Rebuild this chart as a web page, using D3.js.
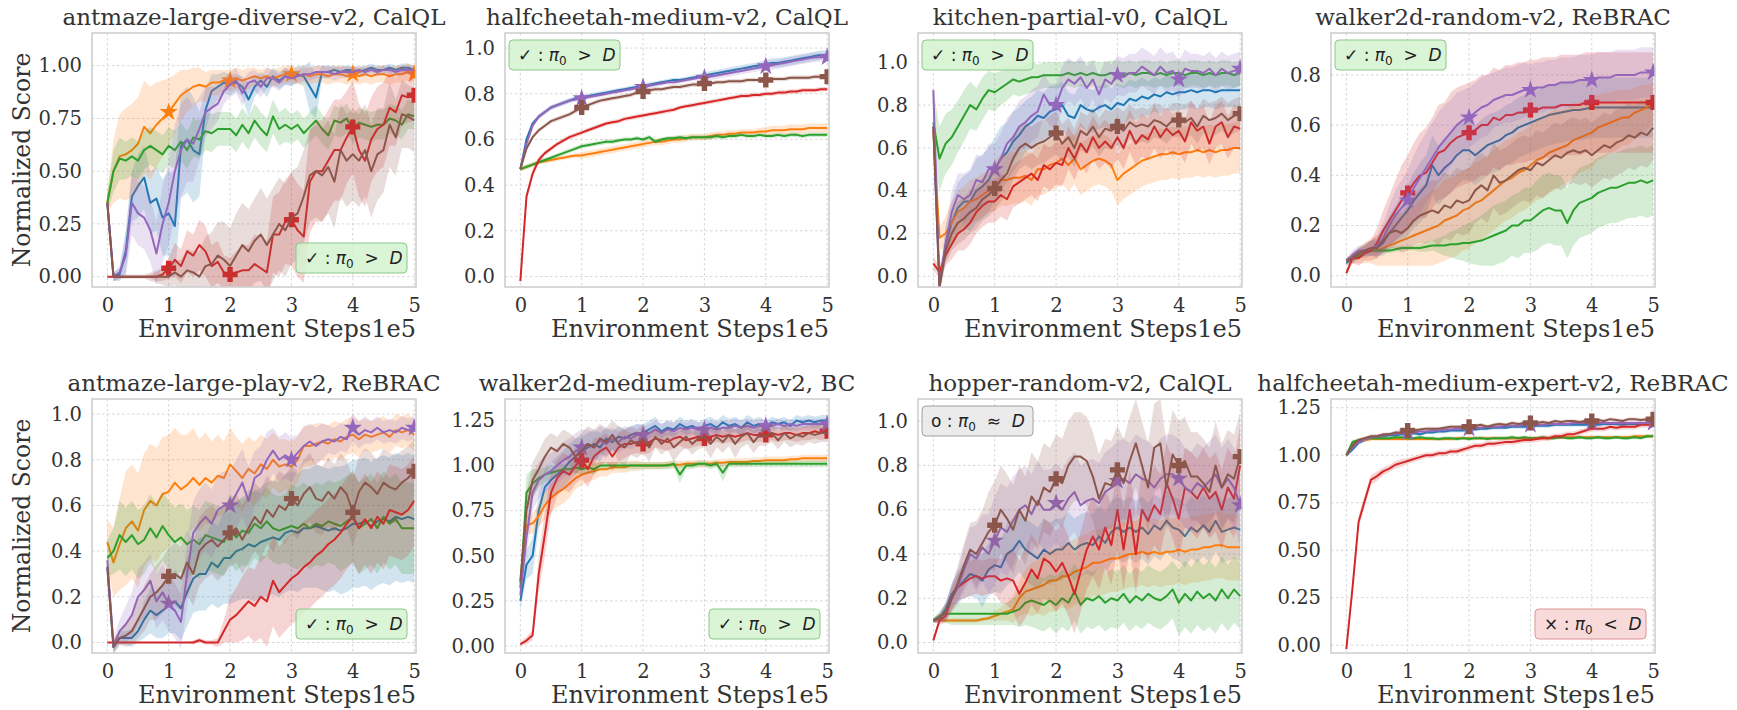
<!DOCTYPE html>
<html>
<head>
<meta charset="utf-8">
<title>Normalized score vs environment steps</title>
<script src="https://cdnjs.cloudflare.com/ajax/libs/d3/7.8.5/d3.min.js"></script>
<style>
  body { margin: 0; background: #fff; }
  svg text { font-family: "DejaVu Serif", serif; fill: #333; }
  .badge text { font-family: "DejaVu Sans", sans-serif; fill: #222; white-space: pre; }
</style>
</head>
<body>
<div id="chart"></div>
<script>
// ---------------- data (scores x100, one sample every 0.1e5 steps) ----------------
var panelTitles = ["antmaze-large-diverse-v2, CalQL", "halfcheetah-medium-v2, CalQL",
  "kitchen-partial-v0, CalQL", "walker2d-random-v2, ReBRAC",
  "antmaze-large-play-v2, ReBRAC", "walker2d-medium-replay-v2, BC",
  "hopper-random-v2, CalQL", "halfcheetah-medium-expert-v2, ReBRAC"];
var xTicks = [0, 1, 2, 3, 4, 5];
var yTicksA = [0, 0.25, 0.5, 0.75, 1.0];
var yTicksB = [0, 0.2, 0.4, 0.6, 0.8, 1.0];
var yTicksC = [0, 0.2, 0.4, 0.6, 0.8];
var yTicksD = [0, 0.25, 0.5, 0.75, 1.0, 1.25];
var badgeKind = ["better", "better", "better", "better", "better", "better", "similar", "worse"];
var badgeCorner = ["br", "tl", "tl", "tl", "br", "br", "tl", "br"];
var starSeries = [1, 4, 4, 4, 4, 4, 4, 4];   // index of series drawn with star markers
var plusSeries = [3, 5, 5, 3, 5, 3, 5, 5];   // index of series drawn with filled-plus markers

// panel 1: antmaze-large-diverse-v2
var p1Blue = [35,0,1,12,38,43,47,35,37,28, 30,24,62,65,60,58,79,88,90,92, 91,92,90,84,90,93,90,95,93,95, 94,96,95,90,85,97,97,98,97,98, 98,97,98,99,98,98,99,98,99,99, 98];
var p1BlueSd = [5,2,3,10,12,15,15,15,15,18, 20,25,25,25,25,20,10,8,6,5, 5,4,5,8,5,4,5,4,4,4, 4,4,5,12,10,3,3,2,2,2, 2,2,2,2,2,2,2,2,2,2, 2];
var p1Orange = [35,50,57,58,60,63,71,68,72,75, 78,82,86,88,90,91,90,92,92,93, 93,94,93,94,95,94,95,94,95,96, 96,95,96,95,96,96,95,96,96,95, 96,95,96,95,96,96,95,96,96,97, 96];
var p1OrangeSd = [5,15,20,22,22,22,22,22,20,18, 16,14,12,10,9,8,7,6,6,5, 5,5,5,5,4,4,4,4,4,4, 4,4,4,4,4,4,4,4,4,4, 4,4,4,4,4,4,4,4,4,4, 4];
var p1Green = [35,50,56,55,57,55,60,62,60,58, 62,60,64,60,66,65,69,68,70,70, 70,67,72,68,74,70,67,76,70,72, 70,72,68,71,74,70,67,74,73,75, 70,73,72,71,72,72,75,74,72,77, 76];
var p1GreenSd = [5,10,10,9,9,9,9,9,9,9, 9,9,9,9,9,9,9,9,8,8, 8,8,8,8,8,8,8,8,8,8, 7,7,7,7,7,7,7,7,7,7, 7,7,7,7,7,7,7,7,7,7, 6];
var p1Red = [0,0,0,0,0,0,0,0,0,1, 4,8,5,12,10,15,12,5,7,2, 1,2,3,3,6,4,2,20,20,26, 27,22,19,45,50,50,55,60,60,66, 71,60,55,65,70,72,80,78,86,85, 86];
var p1RedSd = [0,0,0,0,0,0,0,1,2,3, 5,8,8,10,10,12,12,10,10,8, 8,10,12,12,14,15,15,18,20,20, 22,22,22,24,24,24,24,24,24,22, 22,22,22,20,20,20,18,16,14,12, 12];
var p1Purple = [35,0,2,10,35,30,28,22,11,25, 35,50,60,65,63,70,78,80,82,88, 91,93,87,92,93,90,94,94,92,95, 94,95,96,96,97,97,97,96,97,97, 97,98,97,98,97,98,98,97,98,98, 98];
var p1PurpleSd = [5,2,3,10,15,15,15,15,15,18, 20,22,22,20,18,15,12,10,8,6, 6,6,6,5,5,5,5,4,4,4, 3,3,3,3,3,3,3,3,3,3, 2,2,2,2,2,2,2,2,2,2, 2];
var p1Brown = [35,0,0,0,0,0,0,0,0,0, 0,2,0,3,2,0,5,6,10,8, 5,10,15,12,17,20,15,20,25,22, 28,30,38,48,50,48,52,45,60,55, 58,55,60,50,58,60,72,66,77,76, 74];
var p1BrownSd = [5,2,1,1,1,1,1,2,3,4, 5,6,8,10,10,12,14,15,16,18, 18,20,20,20,20,22,22,22,22,22, 22,22,22,22,22,22,22,22,22,22, 22,22,22,22,22,20,20,18,16,15, 15];

// panel 2: halfcheetah-medium-v2
var p2Blue = [47,60,67,70,72,74,75,76,77,78, 78.5,79,79.5,80,80.5,81,81.5,82,82.5,83, 83.5,84,84.5,85,85.5,86,86,86.5,87,87.5, 88,88.5,89,89.5,90,90.5,91,91.5,92,92.5, 93,93.5,93.5,94,94.5,95,95.5,96,96.5,97, 97];
var p2BlueSd = [1,1,1,1,1,1,1,1,1,1, 1,1,1,1,1,1,1,1,1,1, 1,1,1,1,1,1,1,1,1,1, 1.5,1.5,1.5,1.5,1.5,1.5,1.5,1.5,1.5,1.5, 2,2,2,2,2,2,2,2,2,2, 2];
var p2Orange = [47,48,49,50,50.5,51,51.5,52,52.5,53, 53,53.5,54,54.5,55,55.5,56,56.5,57,57.5, 58,58.5,59,59,59.5,60,60,60.5,61,61, 61,61.5,62,62,62.5,62.5,63,63,63,63.5, 63.5,64,64,64,64.5,64.5,64.5,65,65,65, 65];
var p2OrangeSd = [1,1,1,1,1,1,1,1,1,1, 1.5,1.5,1.5,1.5,1.5,1.5,1.5,1.5,1.5,1.5, 1.5,1.5,1.5,1.5,1.5,1.5,1.5,1.5,1.5,1.5, 1.5,1.5,1.5,1.5,1.5,1.5,1.5,1.5,1.5,1.5, 2,2,2,2,2,2,2,2,2,2, 2];
var p2Green = [47,48,49,50,51,52,53,54,55,56, 57,57.5,58,58.5,59,59,59.5,60,60,60.5, 60,61,59,60,60.5,60.5,61,60.5,61,61, 61,61,61.5,61,61.5,61.5,62,61.5,61.5,62, 61.5,61.5,62,61.5,62,62,61.5,62,62,62, 62];
var p2GreenSd = [1,1,1,1,1,1,1,1,1,1, 1,1,1,1,1,1,1,1,1,1, 1,1,1,1,1,1,1,1,1,1, 1,1,1,1,1,1,1,1,1,1, 1,1,1,1,1,1,1,1,1,1, 1];
var p2Red = [-2,35,45,51,54,56,58,59.5,61,62, 63,64,65,66,67,67.5,68,69,69.5,70, 70.5,71,71.5,72,72.5,73,74,74.5,75,75.5, 76,76.5,77,77.5,78,78.5,79,79,79.5,79.5, 80,80,80.5,80.5,81,81,81.5,81.5,81.5,82, 82];
var p2RedSd = [1,2,2,1.5,1,1,1,1,1,1, 1,1,1,1,1,1,1,1,1,1, 1,1,1,1,1,1,1,1,1,1, 1,1,1,1,1,1,1,1,1,1, 1,1,1,1,1,1,1,1,1,1, 1];
var p2Purple = [47,58,66,70,72,74,75,76,77,77.5, 78,78.5,79,79.5,80,80.5,81,81.5,82,82.5, 83,83.5,84,84.5,85,85,85.5,86,86.5,87, 87,87.5,88,88.5,89,89.5,90,90.5,91,91.5, 92,92.5,93,93.5,94,94.5,95,95.5,96,96, 96];
var p2PurpleSd = [1,1,1,1,1,1,1,1,1,1, 1,1,1,1,1,1,1,1,1,1, 1,1,1,1,1,1,1,1,1,1, 1.5,1.5,1.5,1.5,1.5,1.5,1.5,1.5,1.5,1.5, 2,2,2,2,2,2,2,2,2,2, 2];
var p2Brown = [47,56,61,64,66,68,69,70,71,72.5, 74,75,76,77,77.5,78,78.5,79,79.5,80.5, 81,81.5,82,82,82.5,83,83,83.5,84,84, 84.5,84.5,85,85,85.5,85.5,85.5,86,86,86, 86,86.5,86.5,86.5,87,87,87,87,87.5,87.5, 87.5];
var p2BrownSd = [1,1,1,1,1,1,1,1,1,1, 1,1,1,1,1,1,1,1,1,1, 1,1,1,1,1,1,1,1,1,1, 1,1,1,1,1,1,1,1,1,1, 1,1,1,1,1,1,1,1,1,1, 1];

// panel 3: kitchen-partial-v0
var p3Blue = [70,-5,15,25,32,35,35,40,42,45, 50,55,58,63,66,70,72,75,74,77, 78,80,75,74,80,78,77,79,80,78, 81,80,83,82,84,83,85,84,86,85, 86,86,87,86,87,87,86,87,87,87, 87];
var p3BlueSd = [5,3,8,10,12,12,14,15,15,15, 15,15,14,14,13,12,12,12,12,12, 11,11,11,11,10,10,10,10,10,10, 9,9,9,9,9,8,8,8,8,8, 8,8,8,8,8,8,8,8,8,8, 8];
var p3Orange = [68,18,20,25,30,32,35,36,38,40, 42,45,45,46,46,47,45,50,50,52, 53,55,52,55,50,52,54,55,54,52, 45,48,50,52,54,55,56,57,57,58, 57,58,58,59,58,59,58,59,59,60, 60];
var p3OrangeSd = [5,5,8,10,10,10,10,10,10,10, 12,12,12,12,12,12,12,12,12,12, 12,12,12,12,12,12,12,12,12,12, 12,12,12,12,12,12,12,12,12,12, 12,12,12,12,12,12,12,12,12,12, 12];
var p3Green = [72,55,62,65,70,75,80,78,83,87, 86,88,90,92,91,92,93,93,94,94, 94,94,95,94,95,94,95,94,94,95, 95,94,95,94,95,95,94,95,94,95, 95,94,95,95,94,95,94,95,95,94, 95];
var p3GreenSd = [15,15,14,13,12,12,11,10,10,9, 9,8,8,7,7,7,7,6,6,6, 6,6,6,6,6,6,6,6,6,6, 6,6,6,6,6,6,6,6,6,6, 6,6,6,6,6,6,6,6,6,6, 6];
var p3Red = [6,2,10,15,20,22,25,30,33,35, 35,38,36,42,44,46,48,45,52,50, 53,52,60,55,62,58,65,60,63,60, 65,60,68,62,66,64,70,65,69,66, 68,63,72,68,70,62,70,72,65,70, 69];
var p3RedSd = [3,3,5,7,8,10,10,10,10,10, 10,10,10,10,10,10,10,10,10,10, 10,10,10,10,10,10,10,10,10,10, 10,10,10,10,10,10,10,10,10,10, 10,10,10,10,10,10,10,10,10,10, 10];
var p3Purple = [87,-5,15,30,38,36,38,45,44,50, 50,55,62,65,70,72,75,77,85,80, 80,88,92,90,93,88,92,85,92,90, 94,93,95,95,98,96,94,98,95,96, 92,97,96,96,95,97,94,97,95,96, 97];
var p3PurpleSd = [5,3,8,10,10,12,12,12,12,12, 12,12,12,12,12,12,12,12,10,10, 10,10,10,10,10,10,9,9,9,9, 9,9,9,9,9,9,9,9,9,9, 9,9,8,8,8,8,8,8,8,8, 8];
var p3Brown = [70,-5,12,20,25,27,30,32,36,38, 41,45,48,55,60,62,60,62,63,65, 67,62,65,60,68,66,70,65,69,68, 70,68,72,70,71,70,73,72,70,73, 73,72,74,70,75,73,74,76,73,75, 76];
var p3BrownSd = [5,3,6,8,10,10,10,10,10,10, 10,10,10,10,10,10,10,10,10,10, 10,9,9,9,9,9,9,9,9,9, 9,9,8,8,8,8,8,8,8,8, 8,8,8,8,8,8,8,8,8,8, 8];

// panel 4: walker2d-random-v2
var p4Blue = [5,7,9,10,11,11,13,17,20,23, 26,30,33,36,44,40,43,45,48,50, 50,48,50,52,53,54,56,57,59,60, 61,62,63,64,64.5,65,65.5,66,66,66.5, 67,67,67,67,67,67,67,67,67,67, 67];
var p4BlueSd = [1,2,2,2,3,3,5,7,8,9, 10,11,12,12,12,12,12,12,12,12, 12,12,12,12,12,12,12,12,12,12, 12,12,12,12,12,12,12,12,12,12, 12,12,12,12,12,12,12,12,12,12, 12];
var p4Orange = [6,7,8,9,10,10,11,12,13,14, 15,16,17,18,19,20,22,23,24,26, 27,29,30,32,34,36,38,39,41,42, 44,46,47,49,50,51,52,54,55,56, 57,59,60,61,62,63,63,65,66,67, 69];
var p4OrangeSd = [1,2,3,4,5,6,7,8,9,10, 11,12,13,14,15,15,16,16,16,16, 16,16,16,16,16,16,16,16,16,16, 16,16,16,16,16,15,15,15,14,14, 14,13,13,12,12,11,11,10,10,9, 8];
var p4Green = [6,7,8,9,10,10,10,10,10.5,11, 11,11,11,11.5,12,12,12,12.5,12.5,13, 13,13.5,14,15,16,17,18,20,20,22, 22,24,26,27,26,26,21,26,29,30, 31,33,34,35,35,36,37,37,38,37, 38];
var p4GreenSd = [1,1,1,1,1,1,1,1,1,1, 1,1,1.5,2,2,3,4,5,6,7, 8,9,10,11,12,12,12,12,13,13, 13,14,14,14,14,14,14,14,14,14, 14,14,14,14,14,14,14,14,14,14, 14];
var p4Red = [1,7,7,9,10,13,18,22,26,30, 33,37,40,41,45,49,50,53,55,56, 57,58,60,60,63,62,64,64,65,65, 66,66,67,67,67,68,68,68,68,69, 69,69,69,69,69,69,69,69,69,69, 69];
var p4RedSd = [1,2,3,3,4,6,8,10,12,14, 15,16,17,18,18,19,19,20,20,20, 20,20,20,20,20,20,20,20,20,20, 20,20,20,20,20,20,20,20,20,20, 20,20,20,20,20,20,20,20,20,20, 20];
var p4Purple = [6,8,10,10,11,12,15,20,24,27, 30,35,39,43,47,51,54,57,60,62, 63,65,67,68,70,71,72,72,73,74, 74,75,75,76,76,77,77,77,78,78, 78,79,79,79,80,80,80,80,81,81, 81];
var p4PurpleSd = [1,2,2,2,3,4,6,8,10,11, 12,13,14,14,14,14,14,13,13,12, 12,12,12,12,11,11,11,11,11,11, 10,10,10,10,10,10,10,10,10,10, 10,10,10,10,10,10,10,10,10,10, 10];
var p4Brown = [6,7,9,10,11,11,14,17,18,17, 19,22,24,25,26,25,28,27,30,29, 30,34,36,34,40,37,38,40,42,43, 42,45,44,46,48,47,49,50,49,50, 48,50,52,51,53,54,56,55,57,56, 59];
var p4BrownSd = [1,2,2,3,3,4,5,6,7,8, 9,10,11,12,12,13,13,13,13,13, 13,13,13,13,13,13,13,13,13,13, 13,13,13,13,13,13,13,13,13,13, 13,13,13,13,13,13,13,13,13,13, 13];

// panel 5: antmaze-large-play-v2
var p5Blue = [33,-2,2,2,2,5,10,14,12,14, 16,18,15,22,28,30,30,35,33,37, 37,40,41,43,42,44,45,46,45,48, 49,48,50,50,51,50,49,50,49,50, 52,52,53,51,53,54,53,55,54,55, 54];
var p5BlueSd = [5,3,3,3,4,5,8,10,10,12, 12,14,14,15,15,16,16,18,18,20, 20,22,22,24,24,24,25,25,25,26, 26,26,26,26,27,27,27,27,28,28, 28,28,28,28,28,28,28,28,28,28, 28];
var p5Orange = [44,35,43,50,53,49,58,62,60,65, 66,70,67,69,72,69,72,70,73,72, 78,75,72,76,74,78,76,80,77,78, 77,80,86,86,87,88,87,89,88,90, 91,89,91,90,91,92,90,93,92,93, 91];
var p5OrangeSd = [10,15,20,25,25,25,25,25,25,25, 25,24,24,22,22,20,20,18,18,16, 16,15,15,14,14,13,13,12,12,11, 11,10,9,9,9,8,8,8,8,8, 8,8,7,7,7,7,7,7,7,7, 7];
var p5Green = [37,40,47,44,47,43,45,50,46,51, 47,44,46,43,45,43,47,46,45,44, 50,46,49,48,52,50,53,50,49,50, 51,50,52,50,52,51,53,52,51,53, 55,50,52,54,50,55,52,54,50,50, 50];
var p5GreenSd = [8,10,15,15,15,15,15,15,15,15, 15,15,15,15,15,15,15,15,15,15, 15,15,15,15,15,15,15,15,15,15, 18,18,18,18,18,18,18,18,20,20, 20,20,20,20,20,20,20,20,20,20, 20];
var p5Red = [0,0,0,0,0,0,0,0,0,0, 0,0,0,0,0,1,0,0,0,5, 10,12,15,18,16,20,18,27,22,25, 28,30,33,35,38,40,43,45,48,52, 55,50,54,50,55,52,58,57,56,58, 62];
var p5RedSd = [0,0,0,0,0,0,0,0,0,0, 0,0,0,0,1,1,1,1,2,5, 10,12,14,15,16,18,20,20,20,20, 20,20,20,20,20,20,20,20,20,20, 20,20,20,20,20,20,20,20,20,20, 20];
var p5Purple = [36,-1,5,8,12,20,23,27,18,22, 17,14,9,30,48,52,55,52,58,60, 60,65,70,62,72,74,80,84,80,82, 80,83,86,88,86,88,89,88,90,89, 94,91,93,92,94,92,93,92,94,93, 94];
var p5PurpleSd = [5,3,5,8,10,12,12,12,12,12, 12,12,12,14,14,15,15,15,15,15, 15,15,15,15,12,12,12,10,10,10, 10,8,8,8,8,8,6,6,6,6, 6,6,6,5,5,5,5,5,5,5, 5];
var p5Brown = [33,-2,2,3,5,10,15,20,22,25, 29,30,28,35,30,40,43,45,42,45, 48,50,45,50,55,52,58,55,60,58, 63,60,65,68,63,62,66,63,68,65, 57,66,70,68,65,70,68,67,70,72, 75];
var p5BrownSd = [5,3,3,5,6,8,10,10,12,12, 12,14,14,14,14,15,15,15,15,15, 15,15,15,15,15,15,15,15,15,15, 15,15,15,15,15,15,15,15,15,15, 15,15,15,15,15,15,15,15,14,14, 14];

// panel 6: walker2d-medium-replay-v2
var p6Blue = [25,45,50,75,88,92,95,98,102,105, 108,110,112,110,115,113,116,115,117,118, 118,120,122,119,121,120,123,121,122,120, 122,123,121,124,122,123,121,124,122,123, 122,124,123,124,122,125,124,125,124,125, 125];
var p6BlueSd = [5,8,10,10,10,10,10,10,10,10, 8,8,8,8,6,6,6,5,5,5, 5,5,5,4,4,4,4,4,4,4, 4,4,4,4,4,4,4,4,4,4, 3,3,3,3,3,3,3,3,3,3, 3];
var p6Orange = [35,67,68,72,78,82,85,87,90,93, 95,96,97,98,98,99,99,99,100,100, 100,100,100,100,100.5,100.5,100.5,101,101,101, 101,101,101.5,101.5,102,102,102,102,102.5,102.5, 103,103,103,103,103.5,103.5,104,104,104,104, 104];
var p6OrangeSd = [5,5,6,6,8,8,8,8,8,6, 6,5,5,4,4,3,3,3,3,3, 2,2,2,2,2,2,2,2,2,2, 2,2,2,2,2,2,2,2,2,2, 2,2,2,2,2,2,2,2,2,2, 2];
var p6Green = [32,85,90,93,95,96,97,98,98,99, 98,99,98,100,100,100,100,100,100,100, 100,100,100,100,100,101,95,100,100,101, 101,100,101,96,101,101,101,101,101,101, 101,101,101,101,101,101,101,101,101,101, 101];
var p6GreenSd = [5,10,8,5,4,4,3,3,3,3, 3,3,3,2,2,2,2,2,2,2, 2,2,2,2,2,2,5,2,2,2, 2,2,2,5,2,2,2,2,2,2, 2,2,2,2,2,2,2,2,2,2, 2];
var p6Red = [1,3,6,40,62,85,93,97,95,100, 103,98,105,108,110,105,110,112,112,113, 112,113,115,114,113,115,116,114,115,116, 115,116,117,116,117,116,117,118,117,117, 117,118,117,118,118,117,118,118,119,118, 119];
var p6RedSd = [1,2,3,10,12,12,10,10,10,10, 10,10,10,8,8,8,8,8,6,6, 6,6,5,5,5,5,5,5,5,5, 4,4,4,4,4,4,4,4,4,4, 4,4,4,4,4,4,4,4,4,4, 4];
var p6Purple = [28,60,85,92,95,97,100,103,105,108, 110,112,110,114,112,115,113,116,115,117, 117,118,120,118,120,119,121,120,121,120, 120,121,120,121,121,122,121,122,121,122, 122,122,123,122,123,122,123,123,123,123, 123];
var p6PurpleSd = [5,10,10,10,10,10,10,10,10,10, 10,8,8,8,8,6,6,6,6,6, 5,5,5,5,5,5,4,4,4,4, 4,4,4,4,4,4,4,4,4,4, 3,3,3,3,3,3,3,3,3,3, 3];
var p6Brown = [36,75,92,98,105,110,108,112,110,105, 108,112,110,115,113,117,112,110,114,112, 115,110,116,112,115,110,113,116,112,115, 116,112,116,113,117,112,116,118,113,117, 116,118,114,118,115,117,116,118,117,118, 118];
var p6BrownSd = [5,10,10,10,10,8,8,8,8,10, 10,10,10,8,8,8,10,10,8,8, 8,8,6,6,6,8,6,6,6,6, 6,8,6,6,6,8,6,6,6,6, 5,5,5,5,5,5,5,5,5,5, 5];

// panel 7: hopper-random-v2
var p7Blue = [10,11,15,22,25,28,31,30,28,33, 35,34,40,42,46,42,40,38,42,40, 42,42,45,42,44,45,44,48,45,50, 52,50,52,50,52,49,53,51,55,52, 51,48,52,50,53,50,55,50,51,52, 51];
var p7BlueSd = [1,2,3,5,7,8,10,10,12,12, 12,12,14,14,14,14,14,14,14,14, 14,14,14,14,14,14,14,14,14,14, 14,14,14,14,14,14,14,14,14,14, 14,14,14,14,14,14,14,14,14,14, 14];
var p7Orange = [10,10,10,10,10,10,10,10,10.5,11, 12,13,14,15,20,23,24,25,26,28, 28,30,30,32,33,34,36,36,37,38, 38,39,40,40,41,40,41,40,41,41, 42,41,42,42,43,43,44,44,43,43, 43];
var p7OrangeSd = [1,1,1,1,1,1,1,1,1,1, 2,3,4,6,8,10,12,12,14,14, 14,14,15,15,15,15,15,15,15,15, 15,15,15,15,15,15,15,15,15,15, 15,15,15,15,15,15,15,15,15,15, 15];
var p7Green = [10,12,13,13,13,13,13,13,13,13, 13,13,13,14,15,18,19,18,17,19, 17,20,18,23,17,20,19,21,18,20, 19,22,18,21,19,22,20,19,21,24, 18,22,19,23,20,22,19,24,20,24, 21];
var p7GreenSd = [1,2,4,5,5,5,5,5,5,5, 5,5,5,6,8,10,12,12,12,12, 13,13,13,13,13,13,13,13,13,13, 13,13,13,13,13,13,13,13,13,13, 15,15,15,15,15,15,15,15,15,15, 15];
var p7Red = [1,10,12,20,25,27,29,30,29,30, 30,28,29,28,22,27,33,29,38,36, 32,36,30,22,32,42,48,42,52,44, 60,42,60,40,60,55,62,58,72,65, 56,70,68,65,70,65,68,60,70,65, 80];
var p7RedSd = [1,2,3,5,6,7,8,8,8,8, 8,10,12,14,15,16,16,16,18,18, 18,18,18,18,18,18,18,18,18,18, 18,18,18,18,18,18,18,18,18,18, 18,18,18,18,18,18,18,18,18,18, 18];
var p7Purple = [10,11,14,20,25,33,40,38,43,40, 46,52,50,55,60,62,58,64,60,60, 63,60,65,68,62,64,65,63,68,70, 73,74,72,76,74,73,70,74,76,76, 74,70,68,72,70,73,76,70,74,70, 62];
var p7PurpleSd = [1,2,4,6,8,10,12,15,15,18, 20,20,20,20,18,18,18,18,18,18, 18,18,18,18,18,18,18,18,18,18, 18,18,18,18,18,18,18,18,18,18, 18,18,18,18,18,18,18,18,18,18, 18];
var p7Brown = [10,11,14,20,27,35,42,40,45,50, 53,60,56,51,60,55,66,62,70,68, 74,72,80,84,84,82,75,65,72,71, 78,72,82,90,80,70,88,90,70,85, 80,82,75,75,72,68,80,70,76,74, 84];
var p7BrownSd = [1,2,4,6,8,10,12,15,15,18, 20,20,20,20,20,20,20,20,20,20, 20,20,20,20,20,20,20,20,20,20, 20,20,20,20,20,20,20,20,20,20, 20,20,20,20,20,20,20,20,20,20, 20];

// panel 8: halfcheetah-medium-expert-v2
var p8Blue = [100,103,106.5,108,109,109.5,110,110.5,110.5,111, 111,111.5,111,112,112,112.5,112.5,113,113,113, 113.5,113.5,114,114,114.5,114.5,114.5,115,115,115, 115,115.5,115.5,115.5,116,116,116,116,116,116, 116,116,116.5,116.5,116.5,116,116.5,116.5,116.5,116.5, 116];
var p8BlueSd = [1,1,1,1,1,1,1,1,1,1, 1,1,1,1,1,1,1,1,1,1, 1,1,1,1,1,1,1,1,1,1, 1,1,1,1,1,1,1,1,1,1, 1,1,1,1,1,1,1,1,1,1, 1];
var p8Orange = [100,106,107.5,108,108.5,108.5,108.5,108.5,108.5,108.5, 108.5,108.5,108.5,108.5,108.5,108.5,108.5,108.5,109,109, 109,109,109,109,109,109,109,109,109,109, 109,109,109,109,109.5,109.5,109.5,109.5,109.5,109.5, 109.5,109.5,109.5,109.5,109.5,109.5,109.5,110,110,110, 110];
var p8OrangeSd = [1,1,1,1,1,1,1,1,1,1, 1,1,1,1,1,1,1,1,1,1, 1,1,1,1,1,1,1,1,1,1, 1,1,1,1,1,1,1,1,1,1, 1,1,1,1,1,1,1,1,1,1, 1];
var p8Green = [100,107,108,108.5,109,109,109,109,109.5,109.5, 109,109,109.5,109,109,108.5,109,109,108.5,109, 108.5,109,109,108.5,109,109,109,109.5,109,109.5, 109,109,109.5,109,109,109.5,109,109,109.5,109, 109,109.5,109,109,109.5,109,109,109.5,109,110, 110];
var p8GreenSd = [1,1,1,1,1,1,1,1,1,1, 1,1,1,1,1,1,1,1,1,1, 1,1,1,1,1,1,1,1,1,1, 1,1,1,1,1,1,1,1,1,1, 1,1,1,1,1,1,1,1,1,1, 1];
var p8Red = [-2,30,65,76,87,89,91.5,93,95,96, 97,98,99,100,100,101,101,102,102,103, 104,105,105,106,106,106.5,107,107,107.5,108, 108,108.5,109,109,110,110,111,111,112,113, 114,114,114,115,114.5,115,115,115,116,116, 116];
var p8RedSd = [1,3,3,3,2.5,2.5,2,2,2,2, 1.5,1.5,1.5,1.5,1.5,1.5,1.5,1.5,1.5,1.5, 1.5,1.5,1.5,1.5,1.5,1.5,1.5,1.5,1.5,1.5, 1.5,1.5,1.5,1.5,1.5,1.5,1.5,1.5,1.5,1.5, 1.5,1.5,1.5,1.5,1.5,1.5,1.5,1.5,1.5,1.5, 1.5];
var p8Purple = [100,104,107,108.5,109.5,110,110.5,111,111.5,111.5, 112,112,112.5,112.5,113,113,113.5,113.5,114,114, 114,114.5,114.5,115,115,115,115.5,115.5,115.5,116, 116,116,116,116.5,116.5,116.5,116.5,117,117,117, 117,117,117,117,117,117,117,117,117,117, 117];
var p8PurpleSd = [1,1,1,1,1,1,1,1,1,1, 1,1,1,1,1,1,1,1,1,1, 1,1,1,1,1,1,1,1,1,1, 1,1,1,1,1,1,1,1,1,1, 1,1,1,1,1,1,1,1,1,1, 1];
var p8Brown = [100,105,108,109,110,110,111,111,112,112, 113,113,113.5,114,114,114,114.5,115,115,115, 115,115.5,116,115,116,116.5,116,117,116.5,117, 117,117,117.5,117,118,117.5,118,118,117.5,118, 118,118.5,118,119,118.5,118,119,119,118.5,119, 119];
var p8BrownSd = [1,1,1,1,1,1,1,1,1,1, 1,1,1,1,1,1,1,1,1,1, 1,1,1,1,1,1,1,1,1,1, 1,1,1,1,1,1,1,1,1,1, 1,1,1,1,1,1,1,1,1,1, 1];

// ---------------- layout / style ----------------
var width = 1737, height = 710;
var colLeft = [92, 505, 918, 1331], rowTop = [33, 399],
    plotW = 324, plotH = 254;
var seriesColors = ["#1f77b4", "#ff7f0e", "#2ca02c", "#d62728", "#9467bd", "#8c564b"];
var badgeStyle = {
  better:  {fill: "#d3f2cf", stroke: "#8cc888", sym: "\u2713", rel: ">"},
  similar: {fill: "#e8e8e8", stroke: "#a0a0a0", sym: "o",      rel: "\u2248"},
  worse:   {fill: "#f8d3d3", stroke: "#e09393", sym: "\u00d7", rel: "<"}
};

var steps = d3.range(51).map(function (i) { return i / 10; });

var panels = [
  {yLim: [-0.049, 1.155], ticks: yTicksA, fmt: ".2f",
   means: [p1Blue, p1Orange, p1Green, p1Red, p1Purple, p1Brown],
   sds: [p1BlueSd, p1OrangeSd, p1GreenSd, p1RedSd, p1PurpleSd, p1BrownSd]},
  {yLim: [-0.046, 1.066], ticks: yTicksB, fmt: ".1f",
   means: [p2Blue, p2Orange, p2Green, p2Red, p2Purple, p2Brown],
   sds: [p2BlueSd, p2OrangeSd, p2GreenSd, p2RedSd, p2PurpleSd, p2BrownSd]},
  {yLim: [-0.05, 1.137], ticks: yTicksB, fmt: ".1f",
   means: [p3Blue, p3Orange, p3Green, p3Red, p3Purple, p3Brown],
   sds: [p3BlueSd, p3OrangeSd, p3GreenSd, p3RedSd, p3PurpleSd, p3BrownSd]},
  {yLim: [-0.045, 0.967], ticks: yTicksC, fmt: ".1f",
   means: [p4Blue, p4Orange, p4Green, p4Red, p4Purple, p4Brown],
   sds: [p4BlueSd, p4OrangeSd, p4GreenSd, p4RedSd, p4PurpleSd, p4BrownSd]},
  {yLim: [-0.046, 1.066], ticks: yTicksB, fmt: ".1f",
   means: [p5Blue, p5Orange, p5Green, p5Red, p5Purple, p5Brown],
   sds: [p5BlueSd, p5OrangeSd, p5GreenSd, p5RedSd, p5PurpleSd, p5BrownSd]},
  {yLim: [-0.039, 1.369], ticks: yTicksD, fmt: ".2f",
   means: [p6Blue, p6Orange, p6Green, p6Red, p6Purple, p6Brown],
   sds: [p6BlueSd, p6OrangeSd, p6GreenSd, p6RedSd, p6PurpleSd, p6BrownSd]},
  {yLim: [-0.047, 1.10], ticks: yTicksB, fmt: ".1f",
   means: [p7Blue, p7Orange, p7Green, p7Red, p7Purple, p7Brown],
   sds: [p7BlueSd, p7OrangeSd, p7GreenSd, p7RedSd, p7PurpleSd, p7BrownSd]},
  {yLim: [-0.041, 1.296], ticks: yTicksD, fmt: ".2f",
   means: [p8Blue, p8Orange, p8Green, p8Red, p8Purple, p8Brown],
   sds: [p8BlueSd, p8OrangeSd, p8GreenSd, p8RedSd, p8PurpleSd, p8BrownSd]}
];

// sanity check on hand-typed arrays
panels.forEach(function (p, i) {
  p.means.concat(p.sds).forEach(function (a, j) {
    if (a.length !== steps.length) throw new Error("panel " + (i + 1) + " array " + j + " has " + a.length);
  });
});

var svg = d3.select("#chart").append("svg")
    .attr("width", width)
    .attr("height", height);

var x = d3.scaleLinear().domain([-0.25, 5.03]).range([0, plotW]);

// thick "P" marker (filled plus)
function plusPath(r) {
  var a = r * 0.36;
  return "M" + (-a) + "," + (-r) + "H" + a + "V" + (-a) + "H" + r + "V" + a + "H" + a +
         "V" + r + "H" + (-a) + "V" + a + "H" + (-r) + "V" + (-a) + "H" + (-a) + "Z";
}
var starPath = d3.symbol().type(d3.symbolStar).size(105)();

panels.forEach(function (p, i) {
  var g = svg.append("g")
      .attr("transform", "translate(" + colLeft[i % 4] + "," + rowTop[Math.floor(i / 4)] + ")");
  var y = d3.scaleLinear().domain(p.yLim).range([plotH, 0]);

  // grid
  g.append("g").selectAll("line").data(xTicks).enter().append("line")
      .attr("x1", function (d) { return x(d); }).attr("x2", function (d) { return x(d); })
      .attr("y1", 0).attr("y2", plotH)
      .attr("stroke", "#d6d6d6").attr("stroke-width", 1).attr("stroke-dasharray", "2.5,2.5");
  g.append("g").selectAll("line").data(p.ticks).enter().append("line")
      .attr("y1", function (d) { return y(d); }).attr("y2", function (d) { return y(d); })
      .attr("x1", 0).attr("x2", plotW)
      .attr("stroke", "#d6d6d6").attr("stroke-width", 1).attr("stroke-dasharray", "2.5,2.5");

  var clipId = "clip" + i;
  g.append("clipPath").attr("id", clipId).append("rect")
      .attr("width", plotW).attr("height", plotH);
  var plot = g.append("g").attr("clip-path", "url(#" + clipId + ")");

  p.means.forEach(function (m, s) {
    var rows = steps.map(function (t, k) {
      return {t: t, m: m[k] / 100, lo: (m[k] - p.sds[s][k]) / 100, hi: (m[k] + p.sds[s][k]) / 100};
    });
    plot.append("path")
        .datum(rows)
        .attr("fill", seriesColors[s])
        .attr("fill-opacity", 0.2)
        .attr("d", d3.area()
          .x(function (d) { return x(d.t); })
          .y0(function (d) { return y(d.lo); })
          .y1(function (d) { return y(d.hi); }));
    plot.append("path")
        .datum(rows)
        .attr("fill", "none")
        .attr("stroke", seriesColors[s])
        .attr("stroke-width", 2)
        .attr("stroke-linejoin", "round")
        .attr("d", d3.line()
          .x(function (d) { return x(d.t); })
          .y(function (d) { return y(d.m); }));

    var marked = rows.filter(function (d, k) { return k > 0 && k % 10 === 0; });
    if (s === starSeries[i]) {
      plot.append("g").selectAll("path").data(marked).enter().append("path")
          .attr("d", starPath)
          .attr("transform", function (d) { return "translate(" + x(d.t) + "," + y(d.m) + ")"; })
          .attr("fill", seriesColors[s]);
    }
    if (s === plusSeries[i]) {
      plot.append("g").selectAll("path").data(marked).enter().append("path")
          .attr("d", plusPath(7.5))
          .attr("transform", function (d) { return "translate(" + x(d.t) + "," + y(d.m) + ")"; })
          .attr("fill", seriesColors[s]);
    }
  });

  // frame
  g.append("rect")
      .attr("width", plotW).attr("height", plotH)
      .attr("fill", "none").attr("stroke", "#cccccc").attr("stroke-width", 1.5);

  // axes (tick labels only)
  var xAxis = g.append("g").attr("transform", "translate(0," + plotH + ")")
      .call(d3.axisBottom(x).tickValues(xTicks).tickSize(0).tickPadding(11).tickFormat(d3.format("d")));
  var yAxis = g.append("g")
      .call(d3.axisLeft(y).tickValues(p.ticks).tickSize(0).tickPadding(10).tickFormat(d3.format(p.fmt)));
  [xAxis, yAxis].forEach(function (ax) {
    ax.select(".domain").remove();
    ax.attr("font-family", null).attr("font-size", null);
    ax.selectAll("text").attr("font-size", "19.5px").attr("fill", "#333");
  });

  // title
  g.append("text")
      .attr("x", plotW / 2).attr("y", -8)
      .attr("text-anchor", "middle")
      .attr("font-size", "23px")
      .text(panelTitles[i]);

  // x label; the offset text "1e5" sits at the right end, touching the label
  var offset = g.append("text")
      .attr("x", plotW).attr("y", plotH + 50)
      .attr("text-anchor", "end")
      .attr("font-size", "24px")
      .text("1e5");
  var offW = offset.node().getComputedTextLength();
  g.append("text")
      .attr("x", plotW - offW).attr("y", plotH + 50)
      .attr("text-anchor", "end")
      .attr("font-size", "24px")
      .text("Environment Steps");

  if (i % 4 === 0) {
    g.append("text")
        .attr("transform", "translate(-70," + plotH / 2 + ") rotate(-90)")
        .attr("text-anchor", "middle")
        .attr("dy", "0.35em")
        .attr("font-size", "23.5px")
        .text("Normalized Score");
  }

  // badge
  var st = badgeStyle[badgeKind[i]];
  var bw = 111, bh = 30;
  var bx = badgeCorner[i] === "tl" ? 4 : plotW - 9 - bw;
  var by = badgeCorner[i] === "tl" ? 7 : plotH - 14 - bh;
  var badge = g.append("g").attr("class", "badge").attr("transform", "translate(" + bx + "," + by + ")");
  badge.append("rect")
      .attr("width", bw).attr("height", bh).attr("rx", 4)
      .attr("fill", st.fill).attr("fill-opacity", 0.85)
      .attr("stroke", st.stroke).attr("stroke-width", 1);
  var bt = badge.append("text").attr("x", 9).attr("y", 21).attr("font-size", "17px");
  bt.append("tspan").text(st.sym + " : ");
  bt.append("tspan").attr("font-style", "italic").text("\u03c0");
  bt.append("tspan").attr("font-size", "12px").attr("dy", 4).text("0");
  bt.append("tspan").attr("dy", -4).text("  " + st.rel + "  ");
  bt.append("tspan").attr("font-style", "italic").text("D");
});
</script>
</body>
</html>
